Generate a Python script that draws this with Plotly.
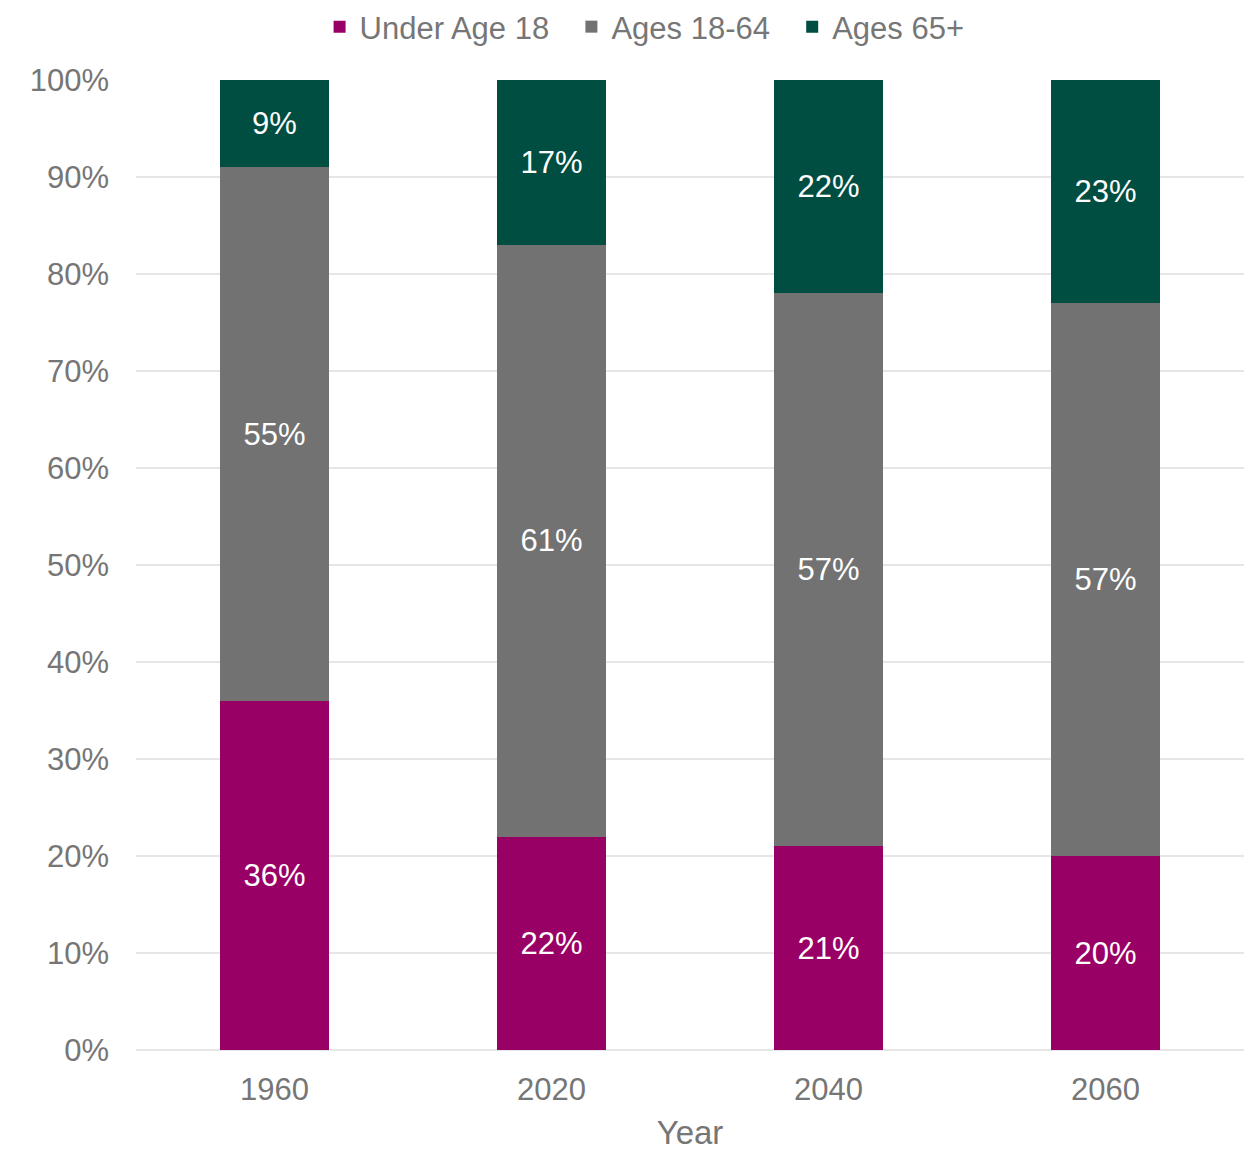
import plotly.graph_objects as go

years = ["1960", "2020", "2040", "2060"]
under18 = [36, 22, 21, 20]
ages18_64 = [55, 61, 57, 57]
ages65 = [9, 17, 22, 23]
series_names = ["Under Age 18", "Ages 18-64", "Ages 65+"]
series_colors = ["#990066", "#717271", "#004D41"]

FONT = "Liberation Sans, Arial, sans-serif"
GRAY = "#767676"
FS = 31
PAD = "\u00a0\u00a0"

fig = go.Figure()
for i, (name, vals, color) in enumerate(zip(series_names, [under18, ages18_64, ages65], series_colors)):
    fig.add_trace(go.Bar(
        x=years,
        y=[v / 100 for v in vals],
        name=name + (PAD if i < 2 else ""),
        marker=dict(color=color, line=dict(width=0)),
        text=[f"{v}%" for v in vals],
        textposition="inside",
        insidetextanchor="middle",
        textangle=0,
        textfont=dict(color="white", size=FS, family=FONT),
    ))

fig.update_layout(
    barmode="stack",
    bargap=0.603,
    width=1248,
    height=1152,
    margin=dict(l=136, r=4, t=80, b=102),
    paper_bgcolor="white",
    plot_bgcolor="white",
    font=dict(family=FONT, color=GRAY, size=FS),
    legend=dict(
        orientation="h",
        traceorder="normal",
        x=0.459,
        xanchor="center",
        y=1.0,
        yanchor="top",
        yref="container",
        font=dict(size=FS, color=GRAY),
        itemwidth=30,
        tracegroupgap=0,
        borderwidth=0,
    ),
    showlegend=True,
)
fig.update_xaxes(
    title=dict(text="Year", font=dict(size=33, color=GRAY), standoff=14),
    tickfont=dict(size=FS, color=GRAY),
    showline=False,
    ticks="",
    ticklabelstandoff=18,
)
fig.update_yaxes(
    range=[0, 1],
    dtick=0.1,
    tickformat=".0%",
    tickfont=dict(size=FS, color=GRAY),
    showgrid=True,
    gridcolor="#e6e6e6",
    gridwidth=2,
    zeroline=True,
    zerolinecolor="#e6e6e6",
    zerolinewidth=2,
    ticks="",
    ticklabelstandoff=26,
)

fig.write_html("out.html")
